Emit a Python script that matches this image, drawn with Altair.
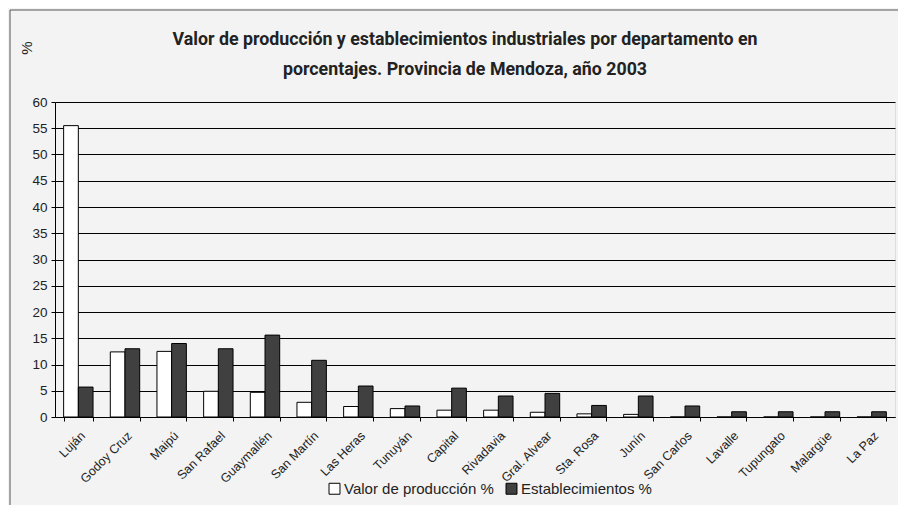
import altair as alt
import pandas as pd

depts = ["Luján", "Godoy Cruz", "Maipú", "San Rafael", "Guaymallén", "San Martín",
         "Las Heras", "Tunuyán", "Capital", "Rivadavia", "Gral. Alvear", "Sta. Rosa",
         "Junín", "San Carlos", "Lavalle", "Tupungato", "Malargüe", "La Paz"]
valor = [55.5, 12.4, 12.5, 4.9, 4.7, 2.8, 2.0, 1.6, 1.3, 1.3, 0.9, 0.6, 0.5, 0.0, 0.0, 0.0, 0.0, 0.0]
estab = [5.7, 13.0, 14.0, 13.0, 15.6, 10.8, 5.9, 2.1, 5.5, 4.0, 4.5, 2.2, 4.0, 2.1, 1.0, 1.0, 1.0, 1.0]
series = ["Valor de producción %", "Establecimientos %"]
y_title = "%"
title_lines = ["Valor de producción y establecimientos industriales por departamento en",
               "porcentajes. Provincia de Mendoza, año 2003"]

rows = []
for d, v, e in zip(depts, valor, estab):
    rows.append({"dept": d, "serie": series[0], "valor": v})
    rows.append({"dept": d, "serie": series[1], "valor": e})
df = pd.DataFrame(rows)

FONT = "Liberation Sans"
TFONT = "Roboto"

bars = alt.Chart(df).mark_bar(stroke="black", strokeWidth=1).encode(
    x=alt.X("dept:N", sort=depts,
            scale=alt.Scale(paddingInner=0.37, paddingOuter=0.185),
            axis=alt.Axis(title=None, labelAngle=-45, tickBand="extent", tickSize=4,
                          tickColor="black", domainColor="black", labelFont=FONT,
                          labelFontSize=12.5, labelColor="#222", labelPadding=8, grid=False)),
    xOffset=alt.XOffset("serie:N", sort=series, scale=alt.Scale(paddingInner=0, paddingOuter=0)),
    y=alt.Y("valor:Q", scale=alt.Scale(domain=[0, 60], nice=False),
            axis=alt.Axis(values=list(range(0, 61, 5)), title=None,
                          grid=True, gridColor="black", gridWidth=1, gridOpacity=1,
                          tickSize=4, tickColor="black", domainColor="black",
                          labelFont=FONT, labelFontSize=13.5, labelColor="#222", labelPadding=4)),
    fill=alt.Fill("serie:N", sort=series,
                  scale=alt.Scale(domain=series, range=["white", "#404040"]),
                  legend=alt.Legend(title=None, orient="none", direction="horizontal",
                                    legendX=272, legendY=379, symbolType="square",
                                    symbolSize=120, symbolStrokeColor="black",
                                    symbolStrokeWidth=1, labelFont=FONT, labelFontSize=15,
                                    labelColor="#222", columnPadding=10, labelOffset=2))
)

ytitle = alt.Chart(pd.DataFrame({"t": [y_title]})).mark_text(
    font=FONT, fontSize=15, color="#222", angle=270, clip=False
).encode(x=alt.value(-28), y=alt.value(-54), text="t:N")

t1 = alt.Chart(pd.DataFrame({"t": [title_lines[0]]})).mark_text(
    font=TFONT, fontSize=17.8, fontWeight="bold", color="#222",
    align="center", baseline="middle", clip=False
).encode(x=alt.value(410), y=alt.value(-62), text="t:N")
t2 = alt.Chart(pd.DataFrame({"t": [title_lines[1]]})).mark_text(
    font=TFONT, fontSize=17.8, fontWeight="bold", color="#222",
    align="center", baseline="middle", clip=False
).encode(x=alt.value(410), y=alt.value(-32), text="t:N")

frame_h = alt.Chart(pd.DataFrame({"a": [0]})).mark_rule(color="#555", strokeWidth=1, clip=False).encode(
    x=alt.value(-45), x2=alt.value(851), y=alt.value(-92))
frame_v = alt.Chart(pd.DataFrame({"a": [0]})).mark_rule(color="#555", strokeWidth=1, clip=False).encode(
    x=alt.value(-45), y=alt.value(-92), y2=alt.value(404))

chart = alt.layer(bars, ytitle, t1, t2, frame_h, frame_v).properties(
    width=840, height=315,
    autosize=alt.AutoSizeParams(type="none"),
    padding={"left": 47, "top": 94, "right": 3, "bottom": 88},
).configure_view(stroke="black", strokeWidth=1).configure(background="#f3f3f3")

chart.save("out.html", embed_options={"renderer": "svg", "actions": False})
